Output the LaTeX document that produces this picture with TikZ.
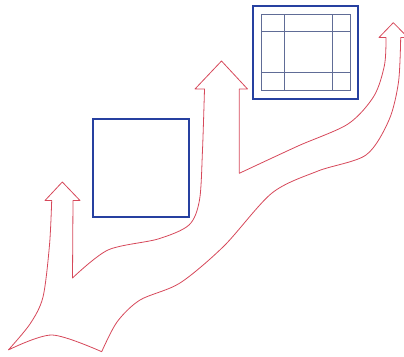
\documentclass[tikz,border=0pt]{standalone}
\usepackage{tikz}
\usetikzlibrary{calc}
\definecolor{stem}{RGB}{214,72,90}
\definecolor{frame}{RGB}{38,64,160}
\definecolor{gridc}{RGB}{96,108,150}

\begin{document}
\begin{tikzpicture}[x=1pt,y=-1pt,
          trunk/.style={draw=stem,line width=0.8pt,line join=round},
          box/.style={draw=frame,line width=2.2pt},
          grid/.style={draw=gridc,line width=0.6pt}]
        \useasboundingbox (0,0) rectangle (404,356);
        % tree outline with three arrow heads
        \draw[trunk] (8.3,350)
          -- plot[smooth] coordinates {(8.3,350) (30,324) (43,297) (49.5,245) (51.7,200.5)}
          -- (45,200.5) -- (62.3,182) -- (80,200.5) -- (73,200.5) -- (72.5,278)
          -- plot[smooth] coordinates {(72.5,278) (108,250) (158,239) (189,225) (199.5,200) (202.5,150) (204.5,89)}
          -- (195,89) -- (221.5,61) -- (247.5,89) -- (239.3,89) -- (239.3,173.3)
          -- plot[smooth] coordinates {(239.3,173.3) (298,146) (348,124) (374,96) (384.5,65) (386,37.5)}
          -- (379,37.5) -- (393.3,22.7) -- (408,37.5) -- (400.7,37.5)
          -- plot[smooth] coordinates {(400.7,37.5) (398.5,82) (389,120) (366,155) (318,171) (272,193) (224,246) (180,283) (140,300) (117,322) (101.7,351.7)}
          -- plot[smooth] coordinates {(101.7,351.7) (52,335) (8.3,350)};
        % plain square
        \draw[box] (93.3,119.3) rectangle (189.3,216.7);
        % square with grid
        \draw[box] (253.3,6) rectangle (358.3,99.3);
        \draw[grid] (261.7,14) rectangle (350,90.7);
        \foreach \x in {284,332.7}
          \draw[grid] (\x,14) -- (\x,90.7);
        \foreach \y in {31.7,72.7}
          \draw[grid] (261.7,\y) -- (350,\y);
      \end{tikzpicture}
\end{document}
